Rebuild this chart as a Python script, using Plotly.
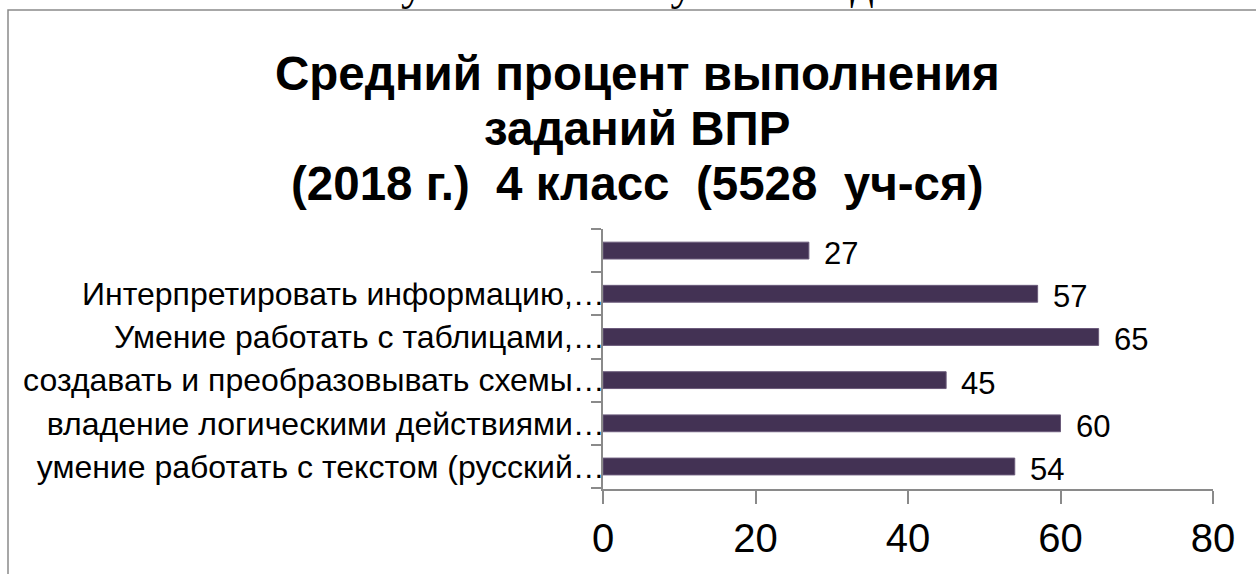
import plotly.graph_objects as go

categories = [
    "умение работать с текстом (русский…",
    "владение логическими действиями…",
    "создавать и преобразовывать схемы…",
    "Умение работать с таблицами,…",
    "Интерпретировать информацию,…",
    " ",
]
values = [54, 60, 45, 65, 57, 27]
x_ticks = [0, 20, 40, 60, 80]

title_lines = ["Средний процент выполнения", "заданий ВПР", "(2018 г.)  4 класс  (5528  уч-ся)"]
top_text = "познавательно-коммуникативных учебных действий."

W, H = 1256, 574
L, R, T, B = 603, 43, 229, 85
pw, ph = W - L - R, H - T - B


def px_x(x):
    return (x - L) / pw


def px_y(y):
    return (H - B - y) / ph


fig = go.Figure()
fig.add_trace(go.Bar(
    y=categories, x=values, orientation="h",
    marker=dict(color="#433254", line=dict(color="#6a5a7a", width=1)),
    hoverinfo="skip",
))

for c, v in zip(categories, values):
    fig.add_annotation(x=v, y=c, xref="x", yref="y", text=str(v), showarrow=False,
                       xanchor="left", xshift=13, yshift=-3,
                       font=dict(family="Liberation Sans, Arial", size=31, color="#000"))

# title, three centred lines
for line, yc in zip(title_lines, [74, 128, 183]):
    fig.add_annotation(xref="paper", yref="paper", x=px_x(637), y=px_y(yc),
                       xanchor="center", yanchor="middle", showarrow=False,
                       text="<b>" + line + "</b>",
                       font=dict(family="Liberation Sans, Arial", size=47.5, color="#000"))

# frame of the embedded chart
fig.add_shape(type="rect", xref="paper", yref="paper",
              x0=px_x(8), x1=px_x(W + 20), y0=px_y(H + 20), y1=px_y(10),
              line=dict(color="#8a8a8a", width=1.5), fillcolor="rgba(0,0,0,0)", layer="below")

# cut-off line of the surrounding document
fig.add_annotation(xref="paper", yref="paper", x=px_x(0), y=px_y(-17),
                   xanchor="left", yanchor="middle", showarrow=False, text=top_text,
                   font=dict(family="Liberation Serif, Times New Roman", size=46, color="#000"))

fig.update_layout(
    width=W, height=H,
    margin=dict(l=L, r=R, t=T, b=B, pad=0),
    paper_bgcolor="white", plot_bgcolor="white",
    bargap=0.61,
    showlegend=False,
    xaxis=dict(range=[0, 80], tickvals=x_ticks, ticks="outside", ticklen=13, tickcolor="#8a8a8a",
               tickwidth=1.5, showline=True, linecolor="#8a8a8a", linewidth=1.5, showgrid=False,
               zeroline=False, automargin=False,
               tickfont=dict(family="Liberation Sans, Arial", size=40, color="#000")),
    yaxis=dict(type="category", categoryorder="array", categoryarray=categories,
               tickson="boundaries", ticks="outside", ticklen=10, tickcolor="#8a8a8a", tickwidth=1.5,
               showline=True, linecolor="#8a8a8a", linewidth=1.5, showgrid=False,
               ticklabelstandoff=-10, automargin=False,
               tickfont=dict(family="Liberation Sans, Arial", size=32, color="#000")),
)

fig.write_html("out.html", config={"displayModeBar": False},
               post_script="document.body.style.margin='0';document.body.style.overflow='hidden';")
